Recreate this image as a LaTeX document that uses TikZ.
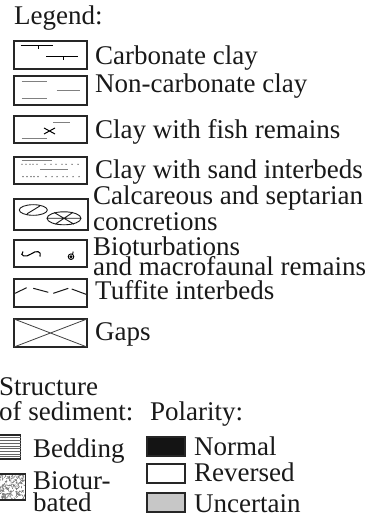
\documentclass[tikz,border=0pt]{standalone}
\usepackage{fontspec}
\setmainfont{Liberation Serif}

\begin{document}
\begin{tikzpicture}[x=1pt,y=-1pt,
  lbox/.style={draw=black!85,line width=1.2pt},
  lbl/.style={anchor=base west,inner sep=0pt,align=left,
    font=\fontsize{27}{25}\selectfont,text=black!90},
  gline/.style={draw=black!50,line width=1pt},
  bline/.style={draw=black,line width=1pt}]
\useasboundingbox (0,0) rectangle (375,518);

\node[lbl] (legend) at (14,25) {Legend:};

% carbonate clay
\draw[lbox] (14,41) rectangle (87,69);
\draw[bline] (20.7,46) -- (52.7,46) (38,46) -- (38,49.5)
  (46,57) -- (78,57) (63,57) -- (63,60.5);
\node[lbl] (carb) at (95,65) {Carbonate clay};

% non-carbonate clay
\draw[lbox] (14,76) rectangle (87,105);
\draw[gline] (21.7,81.7) -- (46.7,81.7) (56.7,90.7) -- (80,90.7)
  (21.7,99) -- (46.7,99);
\node[lbl] (noncarb) at (95,93) {Non-carbonate clay};

% fish remains
\draw[lbox] (14,116) rectangle (87,143);
\draw[gline] (53,122.7) -- (70,122.7) (21.7,139) -- (46.7,139);
\draw[bline] (44,128) -- (55,134) (44,134) -- (55,128);
\node[lbl] (fish) at (95,139) {Clay with fish remains};

% sand interbeds
\draw[lbox] (14,157) rectangle (87,184);
\draw[gline] (21.7,160.7) -- (51.7,160.7) (40,170) -- (68,170);
\foreach \x in {22,26,30,33,37,45,51,56,62,66,72,78}
  \fill[black!75] (\x,164.3) circle (0.7) (\x+1,176.7) circle (0.7);
\node[lbl] (sand) at (95,179) {Clay with sand interbeds};

% concretions
\draw[lbox] (14,199) rectangle (88,230);
\draw[black!90,line width=0.9pt] (33.3,210) ellipse (14 and 5.3)
  (27,213.8) -- (39.6,206.2);
\draw[black!90,line width=0.9pt] (64,218.3) ellipse (17 and 6.5)
  (47,218.3) -- (81,218.3) (54,212.4) -- (74,224.2) (55,224.3) -- (73,212.3);
\node[lbl] (concr) at (93,230) {Calcareous and septarian\\concretions};

% bioturbations
\draw[lbox] (14,240) rectangle (87,267);
\draw[black,line width=1.1pt] (23,251.5) .. controls (19,256) and (26,258) .. (31,254)
  .. controls (36,250) and (42,251) .. (40,256.5);
\draw[black,line width=0.9pt] (71,256.7) circle (2.8) (71,256.7) circle (1)
  (72.6,254.2) -- (73.2,251.6);
\node[lbl] (biot) at (93,275) {Bioturbations\\[-5pt]and macrofaunal remains};

% tuffite
\draw[lbox] (14,279) rectangle (87,307);
\draw[black!90,line width=1pt] (15,293.3) -- (26.7,287.7) (33.3,288.3) -- (48.3,292.3)
  (53.3,293.3) -- (68.3,288.3) (71.7,289) -- (86,294.3);
\node[lbl] (tuff) at (95,299) {Tuffite interbeds};

% gaps
\draw[lbox] (14,319) rectangle (87,347);
\draw[black!75,line width=0.8pt] (14,319) -- (87,347) (14,347) -- (87,319);
\node[lbl] (gaps) at (95,340) {Gaps};

% structure of sediment
\node[lbl] (struct) at (-1,420) {Structure\\of sediment:};
\draw[lbox] (-2,435) rectangle (20.5,459);
\foreach \i in {0,...,7}
  \draw[black!60,line width=0.8pt] (-2,437.8+2.7*\i) -- (20.5,437.8+2.7*\i);
\node[lbl] (bedding) at (33,457) {Bedding};
\pgfmathsetseed{7}
\begin{scope}
\clip (-2,474) rectangle (25.5,500);
\foreach \k in {1,...,170} {
  \pgfmathsetmacro\px{-1+rnd*26}
  \pgfmathsetmacro\py{474+rnd*26}
  \pgfmathsetmacro\pa{rnd*360}
  \draw[black!55,line width=0.6pt] (\px,\py) -- ++(\pa:2.3);
}
\end{scope}
\draw[lbox] (-2,474) rectangle (25.5,500);
\node[lbl] (bioturb) at (33,511) {Biotur-\\[-3pt]bated};

% polarity
\node[lbl] (polar) at (150,420) {Polarity:};
\draw[lbox,fill=black!92] (147,437) rectangle (185,456);
\node[lbl] (normal) at (194,455) {Normal};
\draw[lbox,fill=white] (147,464) rectangle (185,483);
\node[lbl] (revers) at (194,481) {Reversed};
\draw[lbox,fill=black!22] (147,493) rectangle (185,512);
\node[lbl] (uncert) at (194,512) {Uncertain};
\end{tikzpicture}
\end{document}
